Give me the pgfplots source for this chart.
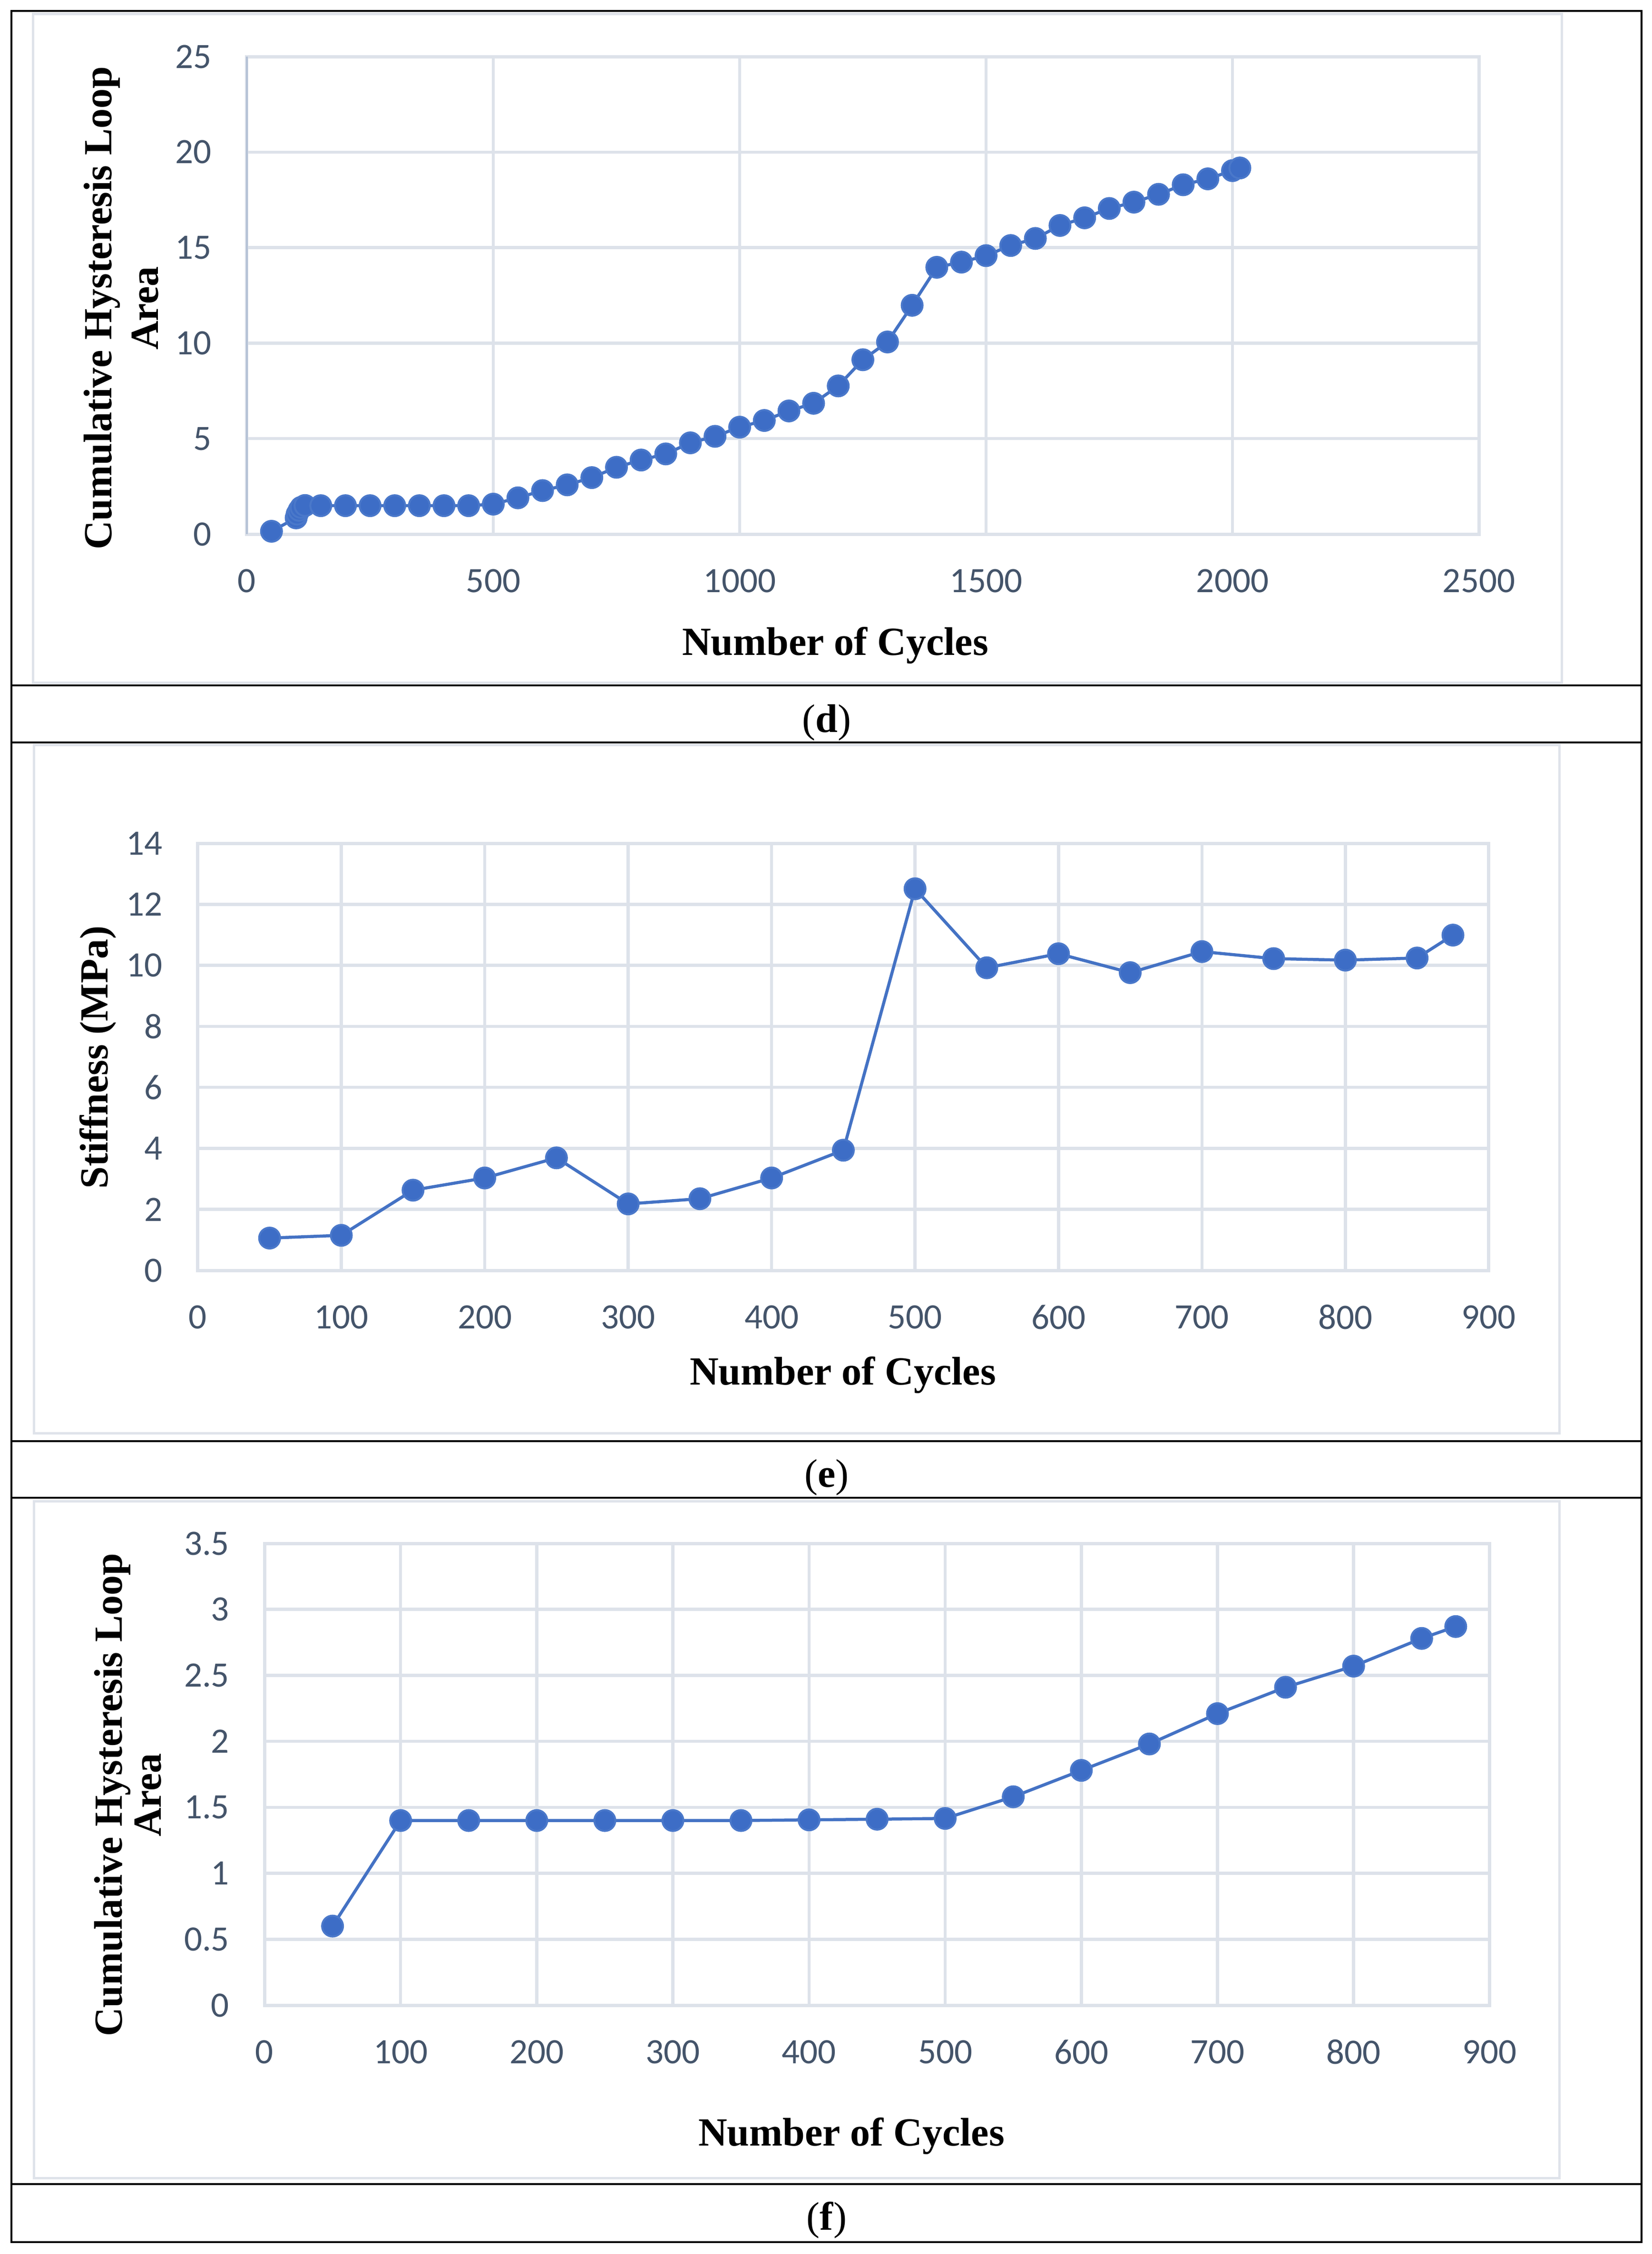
\documentclass[border=0pt]{standalone}
\usepackage{pgfplots}
\pgfplotsset{compat=1.18}
\usepackage{fontspec}
\setmainfont{Liberation Serif}
\newfontfamily\tickfont{Carlito}
\definecolor{gridc}{HTML}{DDE2EA}
\definecolor{boxc}{HTML}{DFE3EA}
\definecolor{tickc}{HTML}{44546A}
\definecolor{serc}{HTML}{4472C4}
\definecolor{markf}{HTML}{3D6DC6}
\definecolor{marke}{HTML}{4A78CA}
\definecolor{axl}{HTML}{B4C1D5}
\pgfplotsset{
  mystyle/.style={
    scale only axis, clip=false,
    axis line style={gridc, line width=0.7pt},
    grid=major, major grid style={gridc, line width=0.65pt},
    major tick length=0pt,
    tick label style={font=\tickfont\fontsize{7.5}{8}\selectfont, text=tickc},
    /pgf/number format/assume math mode=true,
    /pgf/number format/1000 sep={},
    xticklabel style={anchor=center, inner sep=0pt, yshift=-9.8pt},
    yticklabel style={anchor=east, inner sep=0pt, xshift=-7.2pt},
  },
  ser/.style={draw=serc, line width=0.65pt, mark=*, mark size=2.2pt,
      mark options={fill=markf, draw=marke, line width=0.4pt, solid}},
}
\begin{document}
\begin{tikzpicture}
\useasboundingbox (0,0) rectangle (347.3pt,-473.9pt);
\fill[white] (0,0) rectangle (347.3pt,-473.9pt);
% chart boxes
\draw[boxc, line width=0.5pt] (6.9pt,-2.9pt) rectangle (328.3pt,-143.5pt);
\draw[boxc, line width=0.5pt] (7.1pt,-156.6pt) rectangle (327.8pt,-301.3pt);
\draw[boxc, line width=0.5pt] (7.1pt,-315.6pt) rectangle (327.8pt,-457.9pt);
% table frame
\draw[black, line width=0.4pt] (2.4pt,-2.3pt) rectangle (345.1pt,-471.4pt);
\foreach \yy in {144.1,156.1,303.0,314.9,459.2}{
  \draw[black, line width=0.4pt] (2.4pt,-\yy pt) -- (345.1pt,-\yy pt);
}
% ---------------- (d)
\begin{axis}[mystyle, width=259pt, height=100.4pt, at={(51.9pt,-112.3pt)}, anchor=south west,
  xmin=0, xmax=2500, ymin=0, ymax=25,
  xtick={0,500,1000,1500,2000,2500}, ytick={0,5,10,15,20,25}]
\draw[axl, line width=0.35pt] (axis cs:0,0) -- (axis cs:0,25);
\addplot[ser] coordinates {
(50,0.15) (100,0.85) (102,1.05) (106,1.25) (110,1.4) (118,1.5)
(150,1.49) (200,1.49) (250,1.49) (300,1.49) (350,1.49) (400,1.49) (450,1.49)
(500,1.57) (550,1.9) (600,2.28) (650,2.58) (700,2.96) (750,3.5) (800,3.88)
(850,4.2) (900,4.78) (950,5.12) (1000,5.6) (1050,5.95) (1100,6.45) (1150,6.85)
(1200,7.76) (1250,9.13) (1300,10.06) (1350,11.98) (1400,13.97) (1450,14.24)
(1500,14.58) (1550,15.11) (1600,15.48) (1650,16.16) (1700,16.56) (1750,17.05)
(1800,17.38) (1850,17.79) (1900,18.29) (1950,18.6) (2000,19.03) (2015,19.17)
};
\end{axis}
\node[rotate=90, align=center, font=\bfseries\fontsize{8.4}{9.8}\selectfont] at (25.5pt,-64.8pt)
  {Cumulative Hysteresis Loop\\Area};
\node[anchor=base, font=\bfseries\fontsize{8.4}{9.8}\selectfont] at (175.6pt,-137.7pt) {Number of Cycles};
\node[anchor=base, font=\fontsize{8.4}{9.8}\selectfont] at (173.8pt,-153.9pt) {(\textbf{d})};
% ---------------- (e)
\begin{axis}[mystyle, width=271.4pt, height=89.8pt, at={(41.6pt,-267.1pt)}, anchor=south west,
  xmin=0, xmax=900, ymin=0, ymax=14,
  xtick={0,100,...,900}, ytick={0,2,...,14}]
\addplot[ser] coordinates {
(50,1.06) (100,1.15) (150,2.63) (200,3.03) (250,3.69) (300,2.18) (350,2.35)
(400,3.03) (450,3.94) (500,12.51) (550,9.92) (600,10.38) (650,9.76) (700,10.45)
(750,10.22) (800,10.17) (850,10.24) (875,10.99)
};
\end{axis}
\node[rotate=90, font=\bfseries\fontsize{8.4}{9.8}\selectfont] at (20.6pt,-222.3pt) {Stiffness (MPa)};
\node[anchor=base, font=\bfseries\fontsize{8.4}{9.8}\selectfont] at (177.2pt,-291.1pt) {Number of Cycles};
\node[anchor=base, font=\fontsize{8.4}{9.8}\selectfont] at (173.8pt,-312.6pt) {(\textbf{e})};
% ---------------- (f)
\begin{axis}[mystyle, width=257.6pt, height=97.1pt, at={(55.6pt,-421.6pt)}, anchor=south west,
  xmin=0, xmax=900, ymin=0, ymax=3.5,
  xtick={0,100,...,900}, ytick={0,0.5,1,1.5,2,2.5,3,3.5},
  yticklabels={0,0.5,1,1.5,2,2.5,3,3.5}]
\addplot[ser] coordinates {
(50,0.60) (100,1.40) (150,1.40) (200,1.40) (250,1.40) (300,1.40) (350,1.40)
(400,1.405) (450,1.41) (500,1.416) (550,1.58) (600,1.78) (650,1.98) (700,2.21)
(750,2.41) (800,2.57) (850,2.78) (875,2.87)
};
\end{axis}
\node[rotate=90, align=center, font=\bfseries\fontsize{8.4}{8.2}\selectfont] at (26.9pt,-377.4pt)
  {Cumulative Hysteresis Loop\\Area};
\node[anchor=base, font=\bfseries\fontsize{8.4}{9.8}\selectfont] at (179.0pt,-451.1pt) {Number of Cycles};
\node[anchor=base, font=\fontsize{8.4}{9.8}\selectfont] at (173.8pt,-468.8pt) {(\textbf{f})};
\end{tikzpicture}
\end{document}
